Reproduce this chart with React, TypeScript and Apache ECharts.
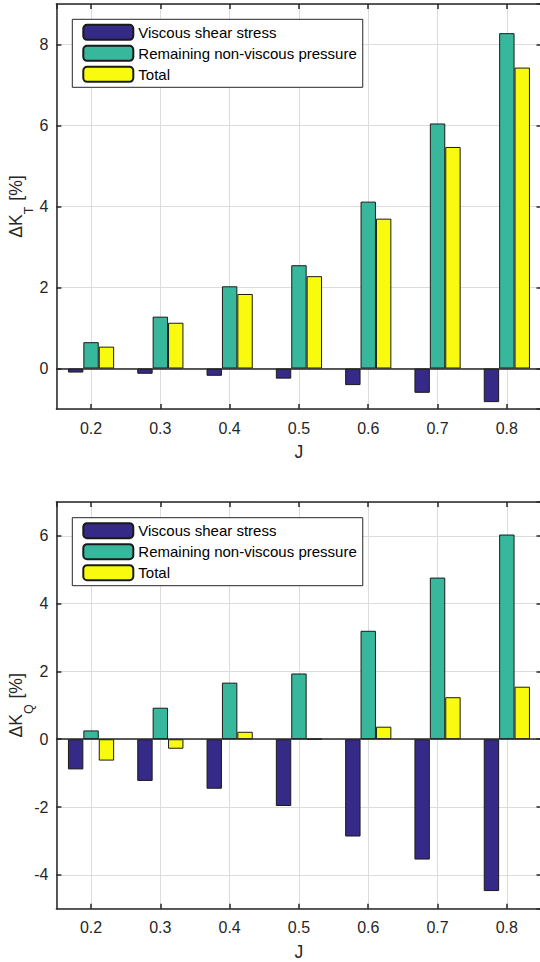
import React, { useEffect, useRef } from "react";
import * as echarts from "echarts";

const J = [0.2, 0.3, 0.4, 0.5, 0.6, 0.7, 0.8];
const seriesNames = ["Viscous shear stress", "Remaining non-viscous pressure", "Total"];
const colors = ["#352a87", "#37b89c", "#f9fb0e"];

const ktViscous = [-0.1, -0.13, -0.18, -0.25, -0.41, -0.6, -0.83];
const ktPressure = [0.65, 1.28, 2.03, 2.55, 4.12, 6.05, 8.28];
const ktTotal = [0.54, 1.13, 1.84, 2.28, 3.7, 5.47, 7.43];

const kqViscous = [-0.89, -1.23, -1.46, -1.97, -2.87, -3.55, -4.48];
const kqPressure = [0.26, 0.93, 1.67, 1.94, 3.2, 4.77, 6.04];
const kqTotal = [-0.63, -0.28, 0.22, 0.01, 0.37, 1.24, 1.55];

const xRange = [0.15, 0.85];
const ktRange = [-1, 9];
const kqRange = [-5, 7];

const FONT = "'Liberation Sans', Arial, Helvetica, sans-serif";
const AXIS_COLOR = "#262626";
const TICK_FONT = 16;
const NAME_FONT = 17.6;

export default function App() {
  const ref = useRef<HTMLDivElement>(null);
  useEffect(() => {
    if (!ref.current) return;
    const chart = echarts.init(ref.current, null, { renderer: "svg" });

    const grids = [
      { left: 56.4, top: 4, width: 485.1, height: 405, containLabel: false, outerBoundsMode: "none" },
      { left: 56.4, top: 502, width: 485.1, height: 406.7, containLabel: false, outerBoundsMode: "none" },
    ];

    const xAxes: any[] = [];
    const yAxes: any[] = [];
    const yRanges = [ktRange, kqRange];
    const yNames = ["{a|ΔK}{b|T}{a| [%]}", "{a|ΔK}{b|Q}{a| [%]}"];

    [0, 1].forEach((g) => {
      xAxes.push({
        type: "value",
        gridIndex: g,
        position: "bottom",
        min: xRange[0],
        max: xRange[1],
        name: "J",
        nameLocation: "middle",
        nameGap: 34,
        nameMoveOverlap: false,
        nameTextStyle: { fontFamily: FONT, fontSize: NAME_FONT, color: AXIS_COLOR },
        axisLine: { show: true, onZero: false, lineStyle: { color: AXIS_COLOR, width: 1.5 } },
        axisTick: { show: true, inside: true, length: 5, lineStyle: { color: AXIS_COLOR, width: 1.5 } },
        axisLabel: {
          show: true,
          showMinLabel: false,
          showMaxLabel: false,
          margin: 11,
          fontFamily: FONT,
          fontSize: TICK_FONT,
          color: AXIS_COLOR,
          formatter: (v: number) => v.toFixed(1),
        },
        splitLine: { show: true, lineStyle: { color: "#dcdcdc", width: 1 } },
      });
      xAxes.push({
        type: "value",
        gridIndex: g,
        position: "top",
        min: xRange[0],
        max: xRange[1],
        axisLine: { show: true, onZero: false, lineStyle: { color: AXIS_COLOR, width: 1.5 } },
        axisTick: { show: true, inside: true, length: 5, lineStyle: { color: AXIS_COLOR, width: 1.5 } },
        axisLabel: { show: false },
        splitLine: { show: false },
      });
      yAxes.push({
        type: "value",
        gridIndex: g,
        position: "left",
        min: yRanges[g][0],
        max: yRanges[g][1],
        name: yNames[g],
        nameLocation: "middle",
        nameGap: 28,
        nameMoveOverlap: false,
        nameTextStyle: {
          fontFamily: FONT,
          fontSize: NAME_FONT,
          color: AXIS_COLOR,
          rich: {
            a: { fontFamily: FONT, fontSize: NAME_FONT, color: AXIS_COLOR, lineHeight: 24 },
            b: {
              fontFamily: FONT,
              fontSize: 12.5,
              color: AXIS_COLOR,
              lineHeight: 24,
              verticalAlign: "bottom",
              padding: [0, 1, -7, 0],
            },
          },
        },
        axisLine: { show: true, onZero: false, lineStyle: { color: AXIS_COLOR, width: 1.5 } },
        axisTick: { show: true, inside: true, length: 5, lineStyle: { color: AXIS_COLOR, width: 1.5 } },
        axisLabel: {
          show: true,
          showMinLabel: false,
          showMaxLabel: false,
          margin: 8,
          fontFamily: FONT,
          fontSize: TICK_FONT,
          color: AXIS_COLOR,
        },
        splitLine: { show: true, lineStyle: { color: "#dcdcdc", width: 1 } },
      });
      yAxes.push({
        type: "value",
        gridIndex: g,
        position: "right",
        min: yRanges[g][0],
        max: yRanges[g][1],
        axisLine: { show: true, onZero: false, lineStyle: { color: AXIS_COLOR, width: 1.5 } },
        axisTick: { show: true, inside: true, length: 5, lineStyle: { color: AXIS_COLOR, width: 1.5 } },
        axisLabel: { show: false },
        splitLine: { show: false },
      });
    });

    const dataSets = [
      [ktViscous, ktPressure, ktTotal],
      [kqViscous, kqPressure, kqTotal],
    ];

    const series: any[] = [];
    dataSets.forEach((set, g) => {
      set.forEach((vals, i) => {
        series.push({
          type: "bar",
          name: seriesNames[i],
          xAxisIndex: g * 2,
          yAxisIndex: g * 2,
          barWidth: 15.4,
          barGap: "0%",
          data: J.map((x, k) => [x, vals[k]]),
          itemStyle: { color: colors[i], borderColor: "#1a1a1a", borderWidth: 1 },
          z: 2,
          markLine:
            i === 2
              ? {
                  silent: true,
                  symbol: "none",
                  label: { show: false },
                  lineStyle: { color: AXIS_COLOR, width: 1.5, type: "solid" },
                  data: [{ yAxis: 0 }],
                  z: 5,
                }
              : undefined,
        });
      });
    });

    const legendCommon = {
      orient: "vertical",
      left: 72.3,
      data: seriesNames,
      selectedMode: false,
      itemWidth: 50,
      itemHeight: 15,
      itemGap: 4,
      padding: [4.5, 6, 4.5, 10],
      backgroundColor: "#ffffff",
      borderColor: AXIS_COLOR,
      borderWidth: 1,
      textStyle: { fontFamily: FONT, fontSize: 15, color: "#000000" },
    };

    chart.setOption({
      animation: false,
      backgroundColor: "#ffffff",
      grid: grids,
      xAxis: xAxes,
      yAxis: yAxes,
      legend: [
        { ...legendCommon, top: 19.3 },
        { ...legendCommon, top: 517.7 },
      ],
      series,
    });

    return () => chart.dispose();
  }, []);

  return (
    <div
      ref={ref}
      style={{ position: "fixed", left: 0, top: 0, width: 540, height: 962, background: "#fff" }}
    />
  );
}
